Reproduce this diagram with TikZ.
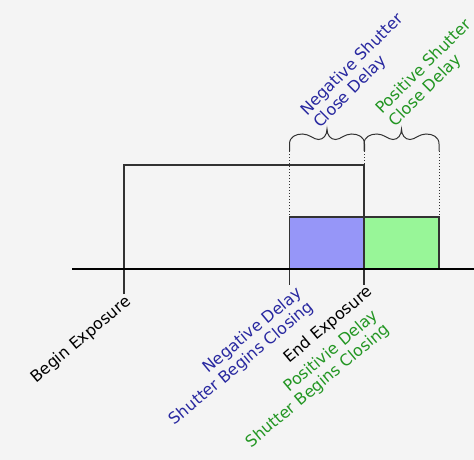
\documentclass[tikz,border=0pt]{standalone}
\usepackage{fontspec}
\setmainfont{DejaVu Sans}
\definecolor{bg}{HTML}{F4F4F4}
\definecolor{bluefill}{RGB}{150,150,248}
\definecolor{greenfill}{RGB}{152,246,152}
\definecolor{bluetxt}{RGB}{40,40,160}
\definecolor{greentxt}{RGB}{35,150,35}
\definecolor{linec}{RGB}{50,50,50}
\tikzset{
  lbl/.style={rotate=45, inner sep=0pt, font=\fontsize{16}{18}\selectfont, anchor=south west, align=left},
  blbl/.style={rotate=40, inner sep=0pt, font=\fontsize{16}{18}\selectfont, anchor=north east},
  ln/.style={draw=linec, line width=1.3pt},
  dots/.style={draw=linec, line width=1pt, dotted},
  brc/.style={draw=linec, line width=1pt},
  braceshape/.pic={
    \draw[brc] (0,0) -- (0,-7) .. controls (0,-14) and (6,-17) .. (13,-17)
      .. controls (20,-17) and (24,-11.5) .. (29,-11.5)
      .. controls (34,-11.5) and (37.5,-16) .. (37.5,-22)
      .. controls (37.5,-16) and (41,-11.5) .. (46,-11.5)
      .. controls (51,-11.5) and (55,-17) .. (62,-17)
      .. controls (69,-17) and (75,-14) .. (75,-7) -- (75,0);
  }
}
\begin{document}
\begin{tikzpicture}[x=1pt,y=-1pt]
\useasboundingbox (0,0) rectangle (474,460);
\path[fill=bg] (0,0) rectangle (474,460);
% coordinates
\coordinate (ax0) at (72,269);
\coordinate (ax1) at (474,269);
\coordinate (b0) at (124,294);
\coordinate (b1) at (124,165);
\coordinate (e1) at (364,165);
\coordinate (e0) at (364,285);
\coordinate (n0) at (289.5,285);
\coordinate (nt) at (289.5,217);
\coordinate (pt) at (439,217);
\coordinate (nb) at (289.5,151);
\coordinate (mb) at (364,151);
\coordinate (pb) at (439,151);
% boxes
\draw[draw=linec, line width=1.1pt, fill=bluefill] (289.5,217) rectangle (364,269);
\draw[draw=linec, line width=1.1pt, fill=greenfill] (364,217) rectangle (439,269);
% exposure
\draw[ln] (b0) -- (b1) -- (e1) -- (e0);
\draw[ln] (nt) -- (n0);
\draw[draw=black, line width=1.3pt] (ax0) -- (ax1);
% dotted
\draw[dots] (nb) -- (nt);
\draw[dots] (mb) -- (e1);
\draw[dots] (pb) -- (pt);
% braces
\pic at (nb) {braceshape};
\pic at (mb) {braceshape};
% labels
\node[lbl, text=bluetxt] (nlab) at (322.4,131.6) {Negative Shutter\\Close Delay};
\node[lbl, text=greentxt] (plab) at (397.6,130.2) {Positive Shutter\\Close Delay};
\node[blbl] (blab) at (124,293.6) {Begin Exposure};
\node[blbl, align=right, text=bluetxt] (ndlab) at (295,285.2) {Negative Delay\\Shutter Begins Closing};
\node[blbl] (elab) at (365.6,283.6) {End Exposure};
\node[blbl, align=right, text=greentxt] (pdlab) at (371.4,307.7) {Positivie Delay\\Shutter Begins Closing};
\end{tikzpicture}
\end{document}
